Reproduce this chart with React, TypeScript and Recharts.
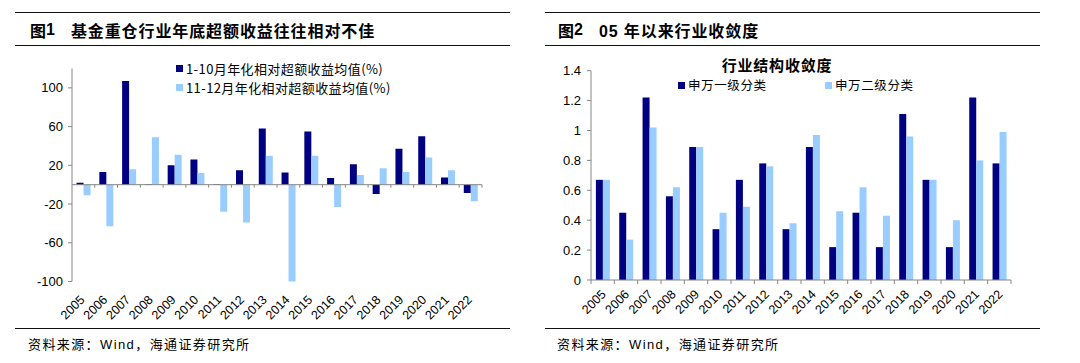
import React from "react";
import { BarChart, Bar, XAxis, YAxis, ReferenceLine, Legend } from "recharts";

// years shared by both panels
const years = [
  "2005", "2006", "2007", "2008", "2009", "2010", "2011", "2012", "2013",
  "2014", "2015", "2016", "2017", "2018", "2019", "2020", "2021", "2022",
];

// 图1: annualised excess return of heavy-held industries (%)
const excessJanOct = [2, 13, 107, 0.5, 20, 26, 0.5, 15, 58, 12.5, 55, 7, 21, -9.5, 37, 50, 7.5, -8.5];
const excessNovDec = [-11, -43, 16, 49, 31, 12, -28, -39, 30, -101, 30, -23, 10, 17, 13, 28, 15, -17];
const excessTicks = [-100, -60, -20, 20, 60, 100];

// 图2: industry convergence
const swFirstLevel = [0.67, 0.45, 1.22, 0.56, 0.89, 0.34, 0.67, 0.78, 0.34, 0.89, 0.22, 0.45, 0.22, 1.11, 0.67, 0.22, 1.22, 0.78];
const swSecondLevel = [0.67, 0.27, 1.02, 0.62, 0.89, 0.45, 0.49, 0.76, 0.38, 0.97, 0.46, 0.62, 0.43, 0.96, 0.67, 0.4, 0.8, 0.99];
const convergenceTicks = [0, 0.2, 0.4, 0.6, 0.8, 1, 1.2, 1.4];

const DARK = "#000080";
const LIGHT = "#99CCFF";
const AXIS = "#868686";
const LATIN = "'Liberation Sans', Arial, 'Noto Sans CJK SC', sans-serif";
const CJK = "'Noto Sans CJK SC', 'Liberation Sans', sans-serif";

const excessData = years.map((year, i) => ({
  year,
  janOct: excessJanOct[i],
  novDec: excessNovDec[i],
}));

const convergenceData = years.map((year, i) => ({
  year,
  sw1: swFirstLevel[i],
  sw2: swSecondLevel[i],
}));

function YearTick(props: any) {
  const { x, y, payload, index, boundaries, dx = 0, dy = 0 } = props;
  const half = payload?.offset ?? (props.width ? props.width / years.length / 2 : 12);
  const tx = x + dx;
  const ty = y + dy;
  return (
    <g>
      {boundaries && <line x1={x - half} x2={x - half} y1={y} y2={y + 4} stroke={AXIS} />}
      {boundaries && index === years.length - 1 && (
        <line x1={x + half} x2={x + half} y1={y} y2={y + 4} stroke={AXIS} />
      )}
      <text
        x={tx}
        y={ty}
        transform={`rotate(-45 ${tx} ${ty})`}
        textAnchor="end"
        fontSize={12.5}
        fontFamily={LATIN}
        fill="#000"
      >
        {payload.value}
      </text>
    </g>
  );
}

// zero line of 图1 doubles as the category axis, with boundary ticks
function ZeroAxis(props: any) {
  const { x1, x2, y1 } = props;
  const step = (x2 - x1) / years.length;
  return (
    <g>
      <line x1={x1} x2={x2} y1={y1} y2={y1} stroke={AXIS} strokeWidth={1} />
      {years.map((_, i) => (
        <line
          key={i}
          x1={x1 + step * (i + 1)}
          x2={x1 + step * (i + 1)}
          y1={y1}
          y2={y1 + 3}
          stroke={AXIS}
        />
      ))}
    </g>
  );
}

function StackedLegend({ payload }: any) {
  return (
    <div style={{ display: "flex", flexDirection: "column" }}>
      {(payload || []).map((p: any) => (
        <div key={p.value} style={{ display: "flex", alignItems: "center", height: 19.4 }}>
          <span style={{ width: 7, height: 7, background: p.color, marginRight: 3 }} />
          <span style={{ fontSize: 13, fontFamily: CJK, color: "#000", letterSpacing: 0.4, lineHeight: 1 }}>
            {p.value}
          </span>
        </div>
      ))}
    </div>
  );
}

function RowLegend({ payload }: any) {
  return (
    <div style={{ display: "flex" }}>
      {(payload || []).map((p: any) => (
        <div key={p.value} style={{ display: "flex", alignItems: "center", width: 147, height: 16 }}>
          <span style={{ width: 7, height: 7, background: p.color, marginRight: 3 }} />
          <span style={{ fontSize: 12.5, fontFamily: CJK, color: "#000", letterSpacing: 0.6, lineHeight: 1 }}>
            {p.value}
          </span>
        </div>
      ))}
    </div>
  );
}

function Rule({ left, top, width }: { left: number; top: number; width: number }) {
  return <div style={{ position: "absolute", left, top, width, height: 1, background: "#111" }} />;
}

function PanelTitle({ left, num, text }: { left: number; num: string; text: string }) {
  return (
    <div
      style={{
        position: "absolute",
        left,
        top: 19,
        height: 22,
        display: "flex",
        alignItems: "center",
        fontWeight: "bold",
        fontSize: 16,
        fontFamily: LATIN,
        color: "#000",
        whiteSpace: "nowrap",
      }}
    >
      <span style={{ fontFamily: CJK }}>图</span>
      <span>{num}</span>
      <span style={{ marginLeft: 16, letterSpacing: 0.9 }}>{text}</span>
    </div>
  );
}

function Source({ left }: { left: number }) {
  return (
    <div
      style={{
        position: "absolute",
        left,
        top: 335,
        fontSize: 13,
        fontFamily: LATIN,
        letterSpacing: 1.4,
        color: "#000",
        lineHeight: "17px",
        whiteSpace: "nowrap",
      }}
    >
      <span style={{ fontFamily: CJK }}>资料来源：</span>Wind<span style={{ fontFamily: CJK }}>，海通证券研究所</span>
    </div>
  );
}

export default function App() {
  return (
    <div style={{ position: "absolute", left: 0, top: 0, width: 1080, height: 363, background: "#fff", overflow: "hidden" }}>
      <Rule left={15} top={12} width={495} />
      <Rule left={15} top={45} width={495} />
      <Rule left={15} top={328} width={495} />
      <Rule left={545} top={12} width={495} />
      <Rule left={545} top={45} width={495} />
      <Rule left={545} top={328} width={495} />

      <PanelTitle left={30} num="1" text="基金重仓行业年底超额收益往往相对不佳" />
      <PanelTitle left={558} num="2" text="05 年以来行业收敛度" />

      <div style={{ position: "absolute", left: 0, top: 0 }}>
        <BarChart
          width={540}
          height={330}
          data={excessData}
          margin={{ top: 68.5, right: 58, left: 0, bottom: 8.5 }}
          barCategoryGap="20%"
          barGap={0}
        >
          <XAxis
            dataKey="year"
            height={40}
            axisLine={false}
            tickLine={false}
            tickSize={0}
            tickMargin={0}
            interval={0}
            tick={(p: any) => <YearTick {...p} dx={2} dy={19} />}
          />
          <YAxis
            width={72}
            domain={[-100, 120]}
            ticks={excessTicks}
            allowDataOverflow
            axisLine={{ stroke: AXIS }}
            tickLine={{ stroke: AXIS }}
            tickSize={4}
            tickMargin={5}
            tick={{ fontSize: 13, fill: "#000", fontFamily: LATIN }}
          />
          <Legend
            layout="vertical"
            align="center"
            verticalAlign="middle"
            wrapperStyle={{ position: "absolute", top: 58.6, left: 176, width: "auto" }}
            content={StackedLegend}
          />
          <Bar dataKey="janOct" name="1-10月年化相对超额收益均值(%)" fill={DARK} isAnimationActive={false} />
          <Bar dataKey="novDec" name="11-12月年化相对超额收益均值(%)" fill={LIGHT} isAnimationActive={false} />
          <ReferenceLine y={0} stroke={AXIS} shape={ZeroAxis} />
        </BarChart>
      </div>

      <div
        style={{
          position: "absolute",
          left: 692,
          width: 170,
          top: 56,
          textAlign: "center",
          fontWeight: "bold",
          fontSize: 15,
          letterSpacing: 0.8,
          fontFamily: CJK,
          color: "#000",
          lineHeight: "18px",
        }}
      >
        行业结构收敛度
      </div>

      <div style={{ position: "absolute", left: 540, top: 0 }}>
        <BarChart
          width={540}
          height={330}
          data={convergenceData}
          margin={{ top: 70.7, right: 69, left: 0, bottom: 10 }}
          barCategoryGap="21%"
          barGap={0}
        >
          <XAxis
            dataKey="year"
            height={40}
            axisLine={{ stroke: AXIS }}
            tickLine={false}
            tickSize={0}
            tickMargin={0}
            interval={0}
            tick={(p: any) => <YearTick {...p} boundaries dx={4} dy={15} />}
          />
          <YAxis
            width={51}
            domain={[0, 1.4]}
            ticks={convergenceTicks}
            axisLine={{ stroke: AXIS }}
            tickLine={{ stroke: AXIS }}
            tickSize={4}
            tickMargin={6}
            tick={{ fontSize: 13, fill: "#000", fontFamily: LATIN }}
          />
          <Legend
            layout="vertical"
            align="center"
            verticalAlign="middle"
            wrapperStyle={{ position: "absolute", top: 77, left: 138, width: "auto" }}
            content={RowLegend}
          />
          <Bar dataKey="sw1" name="申万一级分类" fill={DARK} isAnimationActive={false} />
          <Bar dataKey="sw2" name="申万二级分类" fill={LIGHT} isAnimationActive={false} />
        </BarChart>
      </div>

      <Source left={28} />
      <Source left={557} />
    </div>
  );
}
